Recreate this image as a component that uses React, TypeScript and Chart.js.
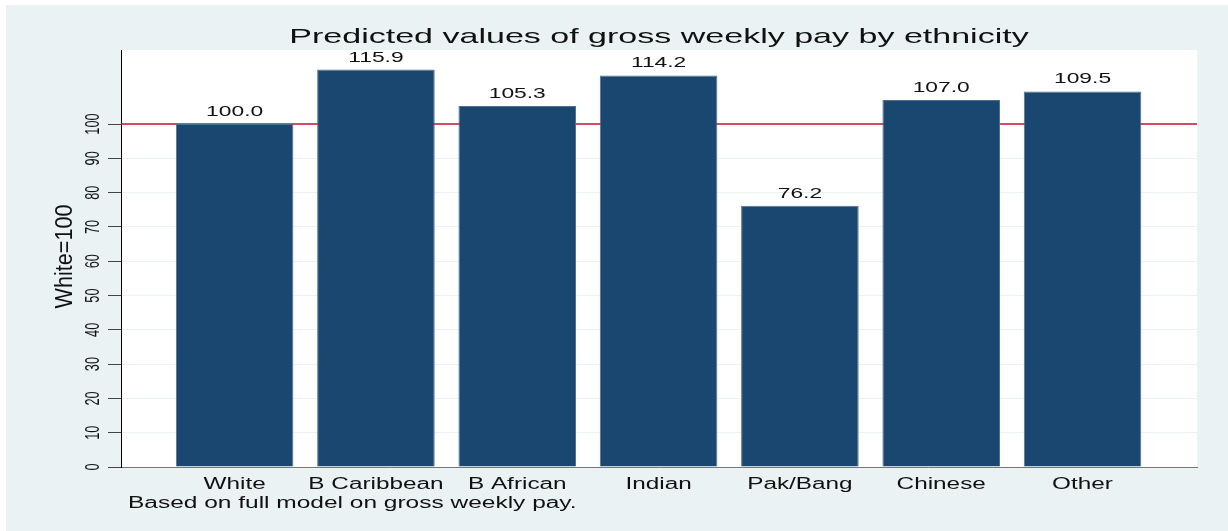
import React, { useEffect, useRef } from 'react';
import { Chart, registerables } from 'chart.js';

Chart.register(...registerables);

const categories: string[] = ['White', 'B Caribbean', 'B African', 'Indian', 'Pak/Bang', 'Chinese', 'Other'];
const values: number[] = [100.0, 115.9, 105.3, 114.2, 76.2, 107.0, 109.5];
const yTickValues: number[] = [0, 10, 20, 30, 40, 50, 60, 70, 80, 90, 100];
const referenceValue = 100;
const titleText = 'Predicted values of gross weekly pay by ethnicity';
const noteText = 'Based on full model on gross weekly pay.';
const yAxisTitle = 'White=100';

const FONT = '"Liberation Sans", Arial, Helvetica, sans-serif';
const BG = '#eaf2f3';
const BAR = '#1a476f';

function drawStretched(ctx: CanvasRenderingContext2D, text: string, x: number, y: number, size: number, sx: number, align: CanvasTextAlign) {
  ctx.save();
  ctx.translate(x, y);
  ctx.scale(sx, 1);
  ctx.font = `${size}px ${FONT}`;
  ctx.textAlign = align;
  ctx.textBaseline = 'alphabetic';
  ctx.fillText(text, 0, 0);
  ctx.restore();
}

function drawRotated(ctx: CanvasRenderingContext2D, text: string, x: number, y: number, size: number, along: number, across: number) {
  ctx.save();
  ctx.translate(x, y);
  ctx.rotate(-Math.PI / 2);
  ctx.scale(along, across);
  ctx.font = `${size}px ${FONT}`;
  ctx.textAlign = 'center';
  ctx.textBaseline = 'middle';
  ctx.fillText(text, 0, 0);
  ctx.restore();
}

export default function App() {
  const canvasRef = useRef<HTMLCanvasElement | null>(null);

  useEffect(() => {
    const canvas = canvasRef.current;
    if (!canvas) return;

    const decor = {
      id: 'decor',
      beforeDraw(chart: any) {
        const { ctx, chartArea } = chart;
        ctx.save();
        ctx.fillStyle = '#ffffff';
        ctx.fillRect(0, 0, chart.width, chart.height);
        ctx.fillStyle = BG;
        ctx.fillRect(6, 5, chart.width - 6, chart.height - 5);
        ctx.fillStyle = '#ffffff';
        ctx.fillRect(chartArea.left, chartArea.top, chartArea.right - chartArea.left, chartArea.bottom - chartArea.top);
        ctx.restore();
      },
      beforeDatasetsDraw(chart: any) {
        const { ctx, chartArea } = chart;
        const y = chart.scales.y.getPixelForValue(referenceValue);
        ctx.save();
        ctx.strokeStyle = '#c8102e';
        ctx.lineWidth = 1.5;
        ctx.beginPath();
        ctx.moveTo(chartArea.left, y);
        ctx.lineTo(chartArea.right, y);
        ctx.stroke();
        ctx.restore();
      },
      afterDraw(chart: any) {
        const { ctx, chartArea } = chart;
        const xs = chart.scales.x;
        const ys = chart.scales.y;
        ctx.save();
        ctx.fillStyle = '#111111';
        drawStretched(ctx, titleText, (chartArea.left + chartArea.right) / 2, 43, 21, 1.62, 'center');
        values.forEach((v, i) => {
          drawStretched(ctx, v.toFixed(1), xs.getPixelForValue(i + 1), ys.getPixelForValue(v) - 8, 15, 1.52, 'center');
        });
        categories.forEach((c, i) => {
          drawStretched(ctx, c, xs.getPixelForValue(i + 1), chartArea.bottom + 22, 16, 1.52, 'center');
        });
        drawStretched(ctx, noteText, 128, chartArea.bottom + 41, 16, 1.53, 'left');
        yTickValues.forEach((v) => {
          drawRotated(ctx, String(v), 93, ys.getPixelForValue(v), 15, 0.85, 1.4);
        });
        drawRotated(ctx, yAxisTitle, 66, (chartArea.top + chartArea.bottom) / 2 - 2, 16, 1.35, 1.45);
        ctx.restore();
      },
    };

    const chart = new Chart(canvas, {
      type: 'bar',
      data: {
        datasets: [
          {
            data: values.map((v, i) => ({ x: i + 1, y: v })),
            backgroundColor: BAR,
            borderColor: '#4f6f8f',
            borderWidth: 1,
            barPercentage: 0.832,
            categoryPercentage: 1,
          },
        ],
      },
      options: {
        animation: false,
        responsive: false,
        devicePixelRatio: 1,
        layout: { padding: { left: 0, right: 31, top: 50, bottom: 0 } },
        plugins: {
          legend: { display: false },
          tooltip: { enabled: false },
          title: { display: false },
        },
        scales: {
          x: {
            type: 'linear',
            offset: false,
            min: 0.196,
            max: 7.81,
            afterBuildTicks: (scale: any) => {
              scale.ticks = categories.map((_, i) => ({ value: i + 1 }));
            },
            afterFit: (scale: any) => {
              scale.height = 64;
            },
            grid: { display: false, drawTicks: false },
            ticks: { display: false },
            border: { display: true, color: '#777777', width: 1 },
          },
          y: {
            type: 'linear',
            min: 0,
            max: 121.6,
            afterBuildTicks: (scale: any) => {
              scale.ticks = yTickValues.map((v) => ({ value: v }));
            },
            afterFit: (scale: any) => {
              scale.width = 121;
            },
            grid: {
              color: BG,
              lineWidth: 1,
              drawTicks: true,
              tickLength: 13,
              tickColor: '#444444',
            },
            ticks: { display: false },
            border: { display: true, color: '#000000', width: 1 },
          },
        },
      },
      plugins: [decor],
    } as any);

    return () => {
      chart.destroy();
    };
  }, []);

  return (
    <div style={{ position: 'fixed', left: 0, top: 0, width: 1228, height: 531 }}>
      <canvas ref={canvasRef} width={1228} height={531} style={{ display: 'block' }} />
    </div>
  );
}
